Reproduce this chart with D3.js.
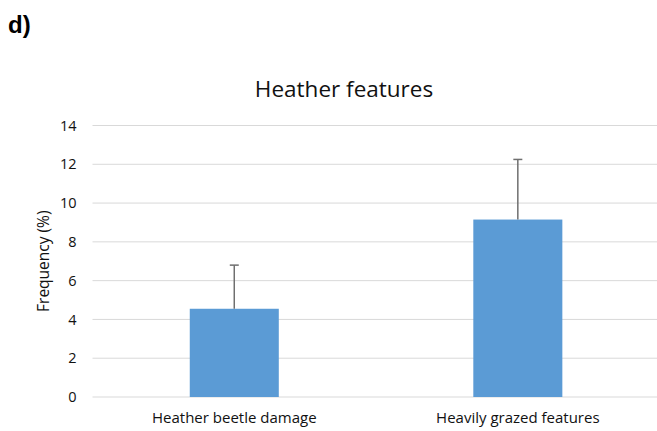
<!DOCTYPE html>
<html>
<head>
<meta charset="utf-8">
<script src="https://cdn.jsdelivr.net/npm/d3@7"></script>
<style>
  body { margin: 0; background: #fff; }
  svg { display: block; font-family: "Open Sans", "Noto Sans", sans-serif; }
</style>
</head>
<body>
<svg id="chart" width="657" height="431"></svg>
<script>
//data
var categories = ["Heather beetle damage", "Heavily grazed features"]
var values = [4.55, 9.15]
var errors = [2.25, 3.1]
var yTicks = [0, 2, 4, 6, 8, 10, 12, 14]

const svg = d3.select('#chart')

//plot area (window.top is taken, so prefix)
const plotLeft = 92.5, plotRight = 659.6, plotTop = 125.5, plotBottom = 397

const x = d3.scaleBand().domain(categories).range([plotLeft, plotRight]).paddingInner(0.686).paddingOuter(0.343)
const y = d3.scaleLinear().domain([0, 14]).range([plotBottom, plotTop])

//gridlines
svg.append("g").selectAll("line")
  .data(yTicks)
  .join("line")
  .attr("x1", plotLeft).attr("x2", 657)
  .attr("y1", d => y(d)).attr("y2", d => y(d))
  .attr("stroke", "#d9d9d9")
  .attr("stroke-width", 1)

//y axis tick labels
const yAxis = d3.axisLeft(y).tickValues(yTicks).tickSize(0).tickPadding(0)
svg.append("g")
  .attr("transform", `translate(${plotLeft - 16},0)`)
  .call(yAxis)
  .call(g => g.select(".domain").remove())
  .selectAll("text")
  .style("font-size", "14.5px")
  .style("font-family", "Open Sans, sans-serif")
  .attr("fill", "#111")

//x axis labels
const xAxis = d3.axisBottom(x).tickSize(0).tickPadding(0)
svg.append("g")
  .attr("transform", `translate(0,${plotBottom + 15})`)
  .call(xAxis)
  .call(g => g.select(".domain").remove())
  .selectAll("text")
  .style("font-size", "15px")
  .style("font-family", "Open Sans, sans-serif")
  .attr("fill", "#111")

//bars
svg.append("g").selectAll("rect")
  .data(categories)
  .join("rect")
  .attr("x", d => x(d))
  .attr("width", x.bandwidth())
  .attr("y", (d, i) => y(values[i]))
  .attr("height", (d, i) => y(0) - y(values[i]))
  .attr("fill", "#5b9bd5")

//error bars (upper only)
const err = svg.append("g").attr("stroke", "#6f6f6f").attr("stroke-width", 1.5)
categories.forEach(function(c, i){
  const cx = x(c) + x.bandwidth() / 2
  err.append("line")
    .attr("x1", cx).attr("x2", cx)
    .attr("y1", y(values[i])).attr("y2", y(values[i] + errors[i]))
  err.append("line")
    .attr("x1", cx - 4.5).attr("x2", cx + 4.5)
    .attr("y1", y(values[i] + errors[i])).attr("y2", y(values[i] + errors[i]))
})

//title
svg.append("text")
  .attr("x", 344).attr("y", 97)
  .attr("text-anchor", "middle")
  .style("font-size", "22.5px")
  .attr("fill", "#111")
  .text("Heather features")

//y axis label
svg.append("text")
  .attr("transform", `translate(49,${(plotTop + plotBottom) / 2}) rotate(-90)`)
  .attr("text-anchor", "middle")
  .style("font-size", "15.5px")
  .attr("fill", "#111")
  .text("Frequency (%)")

//panel label
svg.append("text")
  .attr("x", 8).attr("y", 33)
  .style("font-size", "24px")
  .style("font-weight", "bold")
  .style("font-family", "Liberation Sans, Arial, sans-serif")
  .attr("fill", "#000")
  .text("d)")
</script>
</body>
</html>
